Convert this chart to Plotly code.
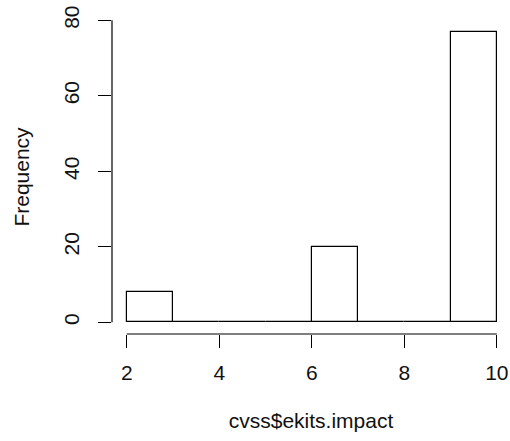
import plotly.graph_objects as go

bin_left = [2, 3, 4, 5, 6, 7, 8, 9]
counts = [8, 0, 0, 0, 20, 0, 0, 77]
x_ticks = [2, 4, 6, 8, 10]
y_ticks = [0, 20, 40, 60, 80]
x_label = "cvss$ekits.impact"
y_label = "Frequency"

centers = [b + 0.5 for b in bin_left]

fig = go.Figure()
fig.add_trace(go.Bar(
    x=centers, y=counts, width=[1] * len(counts),
    marker=dict(color="white", line=dict(color="black", width=1.2)),
    showlegend=False, hoverinfo="skip",
))

font = dict(family="Liberation Sans, Arial, sans-serif", size=21, color="#111111")

fig.update_layout(
    width=510, height=441,
    margin=dict(l=112, r=0, t=20, b=107),
    paper_bgcolor="white", plot_bgcolor="white",
    font=font,
    bargap=0,
    xaxis=dict(
        range=[1.68, 10.285], tickvals=x_ticks, ticktext=[str(v) for v in x_ticks],
        ticks="outside", ticklen=13, tickcolor="black", tickwidth=1.2,
        showgrid=False, zeroline=False, showline=False,
        ticklabelstandoff=7,
        tickfont=font,
        title=dict(text=x_label, standoff=30, font=font),
    ),
    yaxis=dict(
        range=[-3.08, 80.08], tickvals=y_ticks, ticktext=[str(v) for v in y_ticks],
        ticks="outside", ticklen=13, tickcolor="black", tickwidth=1.2,
        tickangle=-90,
        showgrid=False, zeroline=False, showline=False,
        ticklabelstandoff=11,
        tickfont=font,
        title=dict(text=y_label, standoff=24, font=font),
    ),
    shapes=[
        dict(type="line", xref="x", yref="paper", x0=x_ticks[0], x1=x_ticks[-1], y0=0, y1=0,
             line=dict(color="black", width=1.2)),
        dict(type="line", xref="paper", yref="y", x0=0, x1=0, y0=y_ticks[0], y1=y_ticks[-1],
             line=dict(color="black", width=1.2)),
    ],
)

fig.write_html("out.html")
